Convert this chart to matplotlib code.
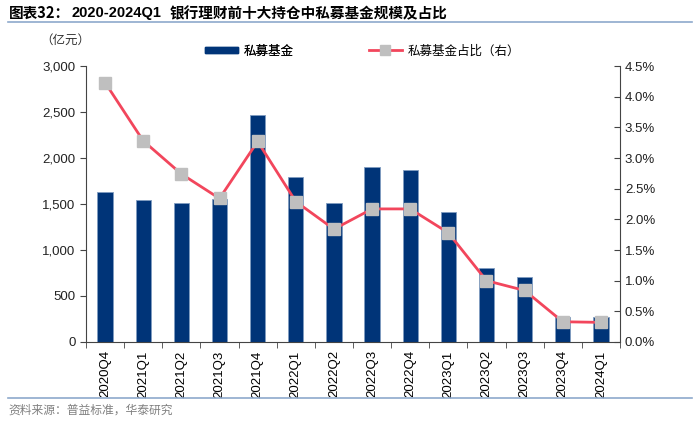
import matplotlib
matplotlib.use("Agg")
import matplotlib.pyplot as plt
from matplotlib.lines import Line2D
from matplotlib.patches import Patch
from matplotlib.ticker import FuncFormatter, MultipleLocator
import numpy as np

plt.rcParams['font.family'] = ['Liberation Sans', 'Noto Sans CJK SC', 'DejaVu Sans']

categories = ["2020Q4", "2021Q1", "2021Q2", "2021Q3", "2021Q4", "2022Q1", "2022Q2",
              "2022Q3", "2022Q4", "2023Q1", "2023Q2", "2023Q3", "2023Q4", "2024Q1"]
scale_values = [1630, 1540, 1507, 1554, 2464, 1790, 1507, 1906, 1866, 1409, 801, 706, 268, 268]
share_values = [4.23, 3.28, 2.74, 2.34, 3.27, 2.29, 1.84, 2.17, 2.17, 1.78, 1.00, 0.84, 0.33, 0.32]

bar_color = "#003478"
line_color = "#F2465C"
marker_color = "#BFBFBF"

fig = plt.figure(figsize=(7, 4.21), dpi=100)
ax = fig.add_axes([86/700, 1-342/421, (620-86)/700, (342-66)/421])
x = np.arange(len(categories))
ax.bar(x, scale_values, width=0.4, color=bar_color, edgecolor="#7F9CC0", linewidth=0.6, zorder=2)
ax.set_xlim(-0.5, len(categories)-0.5)
ax.set_ylim(0, 3000)
ax.yaxis.set_major_locator(MultipleLocator(500))
ax.yaxis.set_major_formatter(FuncFormatter(lambda v, p: f"{int(v):,}"))
ax.set_xticks(x)
ax.set_xticklabels(categories, rotation=90, fontsize=9.5)
ax.set_xticks(np.arange(-0.5, len(categories)), minor=True)
ax.tick_params(axis='x', which='major', length=0, pad=6)
ax.tick_params(axis='x', which='minor', length=4, direction='out', color="#444444")
ax.tick_params(axis='y', labelsize=9.5, length=4, direction='out', color="#444444", colors="#222222")
for s in ["top", "right"]:
    ax.spines[s].set_visible(False)
for s in ["left", "bottom"]:
    ax.spines[s].set_color("#444444")
    ax.spines[s].set_linewidth(0.8)

ax2 = ax.twinx()
ax2.plot(x, share_values, color=line_color, linewidth=2, marker='s', markersize=8,
         markerfacecolor=marker_color, markeredgecolor=marker_color, zorder=3)
ax2.set_ylim(0, 4.5)
ax2.yaxis.set_major_locator(MultipleLocator(0.5))
ax2.yaxis.set_major_formatter(FuncFormatter(lambda v, p: f"{v:.1f}%"))
ax2.tick_params(axis='y', labelsize=9.5, length=4, direction='in', color="#444444", colors="#222222")
for s in ["top", "left", "bottom"]:
    ax2.spines[s].set_visible(False)
ax2.spines["right"].set_color("#444444")
ax2.spines["right"].set_linewidth(0.8)

cjk = ['Noto Sans CJK SC', 'DejaVu Sans']
ty = 1-13/421
fig.text(9/700, ty, "图表32：", fontsize=10.5, fontweight='bold', va='center', family=cjk)
fig.text(72/700, ty, "2020-2024Q1", fontsize=10.5, fontweight='bold', va='center',
         family=['Liberation Sans', 'DejaVu Sans'])
fig.text(170/700, ty, "银行理财前十大持仓中私募基金规模及占比", fontsize=10.5, fontweight='bold',
         va='center', family=cjk)
fig.add_artist(Line2D([8/700, 692/700], [1-22/421, 1-22/421], color="#8EA9CC", linewidth=1.2))
fig.add_artist(Line2D([8/700, 692/700], [1-398/421, 1-398/421], color="#8EA9CC", linewidth=1.2))
fig.text(8/700, 1-410/421, "资料来源：普益标准，华泰研究", fontsize=8.5, color="#808080", va='center', family=cjk)
fig.text(40/700, 1-40/421, "（亿元）", fontsize=9, color="#333333", va='center', family=cjk)

ly = 1-51/421
leg1 = fig.legend([Patch(facecolor=bar_color, edgecolor=bar_color)], ["私募基金"],
                  loc='center left', bbox_to_anchor=(205/700, ly), frameon=False,
                  handlelength=2.6, handleheight=0.45, handletextpad=0.5, borderaxespad=0, borderpad=0,
                  prop={'family': cjk, 'size': 9})
fig.add_artist(leg1)
fig.legend([Line2D([0], [0], color=line_color, linewidth=2, marker='s', markersize=7,
                   markerfacecolor=marker_color, markeredgecolor=marker_color)], ["私募基金占比（右）"],
           loc='center left', bbox_to_anchor=(369/700, ly), frameon=False,
           handlelength=2.6, handletextpad=0.5, borderaxespad=0, borderpad=0,
           prop={'family': cjk, 'size': 9})

fig.savefig("out.png", dpi=100)
